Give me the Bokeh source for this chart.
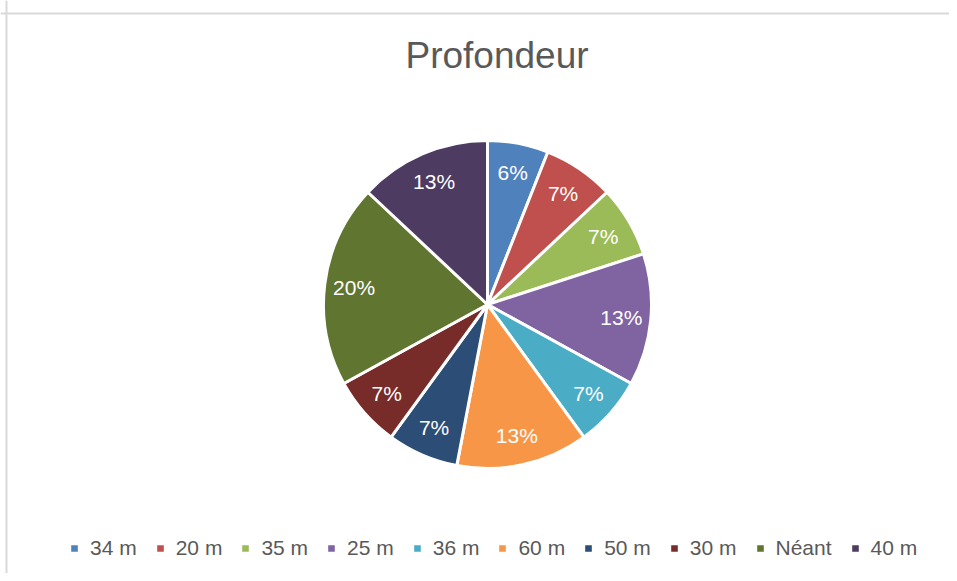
import math
from bokeh.plotting import figure
from bokeh.models import Range1d, Label, Legend, LegendItem, ColumnDataSource, Span
from bokeh.core.properties import value
from bokeh.embed import file_html
from bokeh.resources import INLINE

# ---- data ----
title = "Profondeur"
categories = ["34 m", "20 m", "35 m", "25 m", "36 m", "60 m", "50 m", "30 m", "Néant", "40 m"]
shares = [6, 7, 7, 13, 7, 13, 7, 7, 20, 13]
colors = ["#4F81BD", "#C0504D", "#9BBB59", "#8064A2", "#4BACC6",
          "#F79646", "#2C4D75", "#772C2A", "#5F7530", "#4D3B62"]

W, H = 949, 573
CX, CY, R = 487, H - 304, 164
FONT = "Liberation Sans"

total = sum(shares)
starts, ends, lx, ly, texts = [], [], [], [], []
cum = 0.0
for v in shares:
    a0 = math.pi / 2 - 2 * math.pi * cum / total
    cum += v
    a1 = math.pi / 2 - 2 * math.pi * cum / total
    starts.append(a0)
    ends.append(a1)
    mid = (a0 + a1) / 2
    lx.append(CX + 0.82 * R * math.cos(mid))
    ly.append(CY + 0.82 * R * math.sin(mid))
    texts.append(f"{round(v / total * 100)}%")

src = ColumnDataSource(dict(cat=categories, start=starts, end=ends, color=colors,
                            lx=lx, ly=ly, txt=texts))

p = figure(width=W, height=H, output_backend="svg", toolbar_location=None,
           x_range=Range1d(0, W), y_range=Range1d(0, H), min_border=0)
p.axis.visible = False
p.grid.visible = False
p.outline_line_color = None
p.background_fill_color = "white"
p.border_fill_color = "white"

# chart frame (top and left edges visible)
p.add_layout(Span(location=H - 13, dimension="width", line_color="#d9d9d9", line_width=2))
p.add_layout(Span(location=6, dimension="height", line_color="#d9d9d9", line_width=2))

wedges = p.wedge(x=CX, y=CY, radius=R, start_angle="start", end_angle="end",
                 direction="clock", fill_color="color", line_color="white",
                 line_width=3, source=src)

p.text(x="lx", y="ly", text="txt", source=src, text_color="white",
       text_font=value(FONT), text_font_size="21px", text_align="center",
       text_baseline="middle")

p.add_layout(Label(x=496.5, y=H - 55, text=title, text_align="center",
                   text_baseline="middle", text_font=FONT, text_font_size="37px",
                   text_color="#595959"))

items = [LegendItem(label=c, renderers=[wedges], index=i) for i, c in enumerate(categories)]
legend = Legend(items=items, orientation="horizontal", location=(68, 13),
                glyph_width=12, glyph_height=12, label_standoff=10, spacing=17,
                padding=0, margin=0, label_text_font=FONT, label_text_font_size="21px",
                label_text_color="#595959", background_fill_alpha=0,
                border_line_alpha=0)
p.add_layout(legend)

open("out.html", "w").write(file_html(p, INLINE))
